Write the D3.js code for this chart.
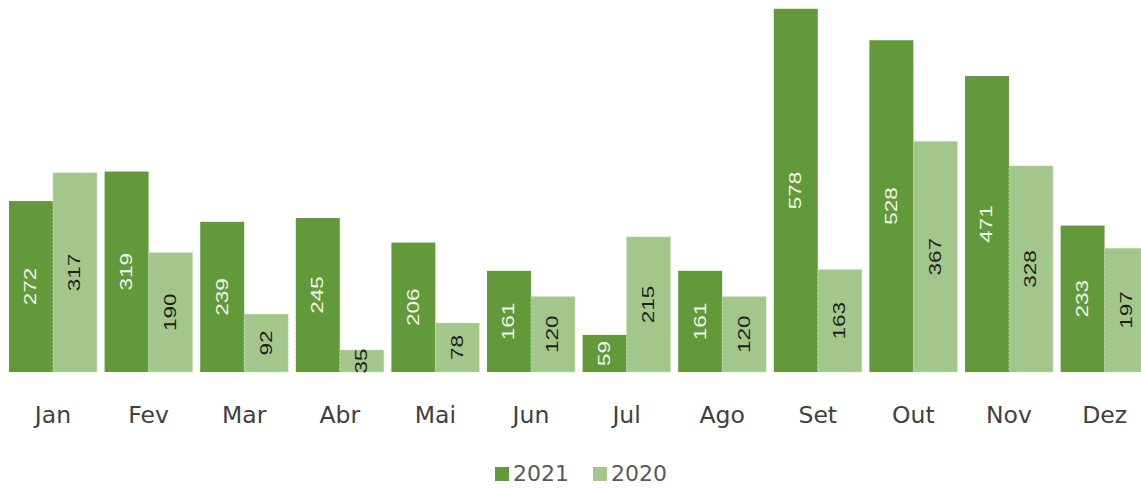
<!DOCTYPE html>
<html>
<head>
<meta charset="utf-8">
<script src="https://cdn.jsdelivr.net/npm/d3@7"></script>
<style>
  html, body { margin: 0; padding: 0; background: #ffffff; }
  svg { display: block; }
</style>
</head>
<body>
<script>
const months = ["Jan","Fev","Mar","Abr","Mai","Jun","Jul","Ago","Set","Out","Nov","Dez"];
const seriesNames = ["2021","2020"];
const values2021 = [272,319,239,245,206,161,59,161,578,528,471,233];
const values2020 = [317,190,92,35,78,120,215,120,163,367,328,197];
const seriesColors = ["#62993b","#a3c78b"];
const labelColors = ["#f2f6e8","#1e1e1e"];

const W = 1141, H = 488;
const svg = d3.select("body").append("svg").attr("width", W).attr("height", H);

const data = months.map((m, i) => ({ month: m, vals: [values2021[i], values2020[i]] }));

const step = 95.6;
const x = d3.scaleBand().domain(months)
  .range([9 - 0.04 * step, 9 - 0.04 * step + 12 * step])
  .paddingInner(0.08).paddingOuter(0.04);
const xs = d3.scaleBand().domain(seriesNames).range([0, x.bandwidth()]).padding(0);
const y = d3.scaleLinear().domain([0, 592]).range([372, 0]);

const groups = svg.append("g").selectAll("g").data(data).join("g")
  .attr("transform", d => `translate(${x(d.month)},0)`);

groups.selectAll("rect").data(d => d.vals.map((v, i) => ({ v, i, s: seriesNames[i] })))
  .join("rect")
  .attr("x", d => xs(d.s))
  .attr("y", d => y(d.v))
  .attr("width", xs.bandwidth())
  .attr("height", d => y(0) - y(d.v))
  .attr("fill", d => seriesColors[d.i])
  .attr("stroke", d => d.i === 1 ? "#c3dbb2" : "none")
  .attr("stroke-width", 0.8)
  .attr("stroke-dasharray", "2,2");

groups.selectAll("text").data(d => d.vals.map((v, i) => ({ v, i, s: seriesNames[i] })))
  .join("text")
  .attr("transform", d => `translate(${xs(d.s) + xs.bandwidth() / 2},${(y(d.v) + y(0)) / 2}) rotate(-90)`)
  .attr("text-anchor", "middle")
  .attr("dominant-baseline", "central")
  .attr("font-family", "'Liberation Sans Narrow','Liberation Sans',sans-serif")
  .attr("font-size", 17)
  .attr("textLength", d => String(d.v).length * 12.5)
  .attr("lengthAdjust", "spacingAndGlyphs")
  .attr("fill", d => labelColors[d.i])
  .text(d => d.v);

// x axis labels
const xAxis = d3.axisBottom(x).tickSize(0).tickPadding(0);
const ax = svg.append("g").attr("transform", "translate(0,372)").call(xAxis);
ax.select(".domain").remove();
ax.selectAll("text")
  .attr("y", 51)
  .attr("dy", 0)
  .attr("font-family", "'DejaVu Sans',Verdana,sans-serif")
  .attr("font-size", 23.5)
  .attr("fill", "#404040");

// legend
const legend = svg.append("g");
const legendX = [495, 593];
seriesNames.forEach((s, i) => {
  legend.append("rect").attr("x", legendX[i]).attr("y", 467)
    .attr("width", 14).attr("height", 14).attr("fill", seriesColors[i]);
  legend.append("text").attr("x", legendX[i] + 18).attr("y", 481)
    .attr("font-family", "'DejaVu Sans',Verdana,sans-serif")
    .attr("font-size", 22).attr("fill", "#595959").text(s);
});
</script>
</body>
</html>
